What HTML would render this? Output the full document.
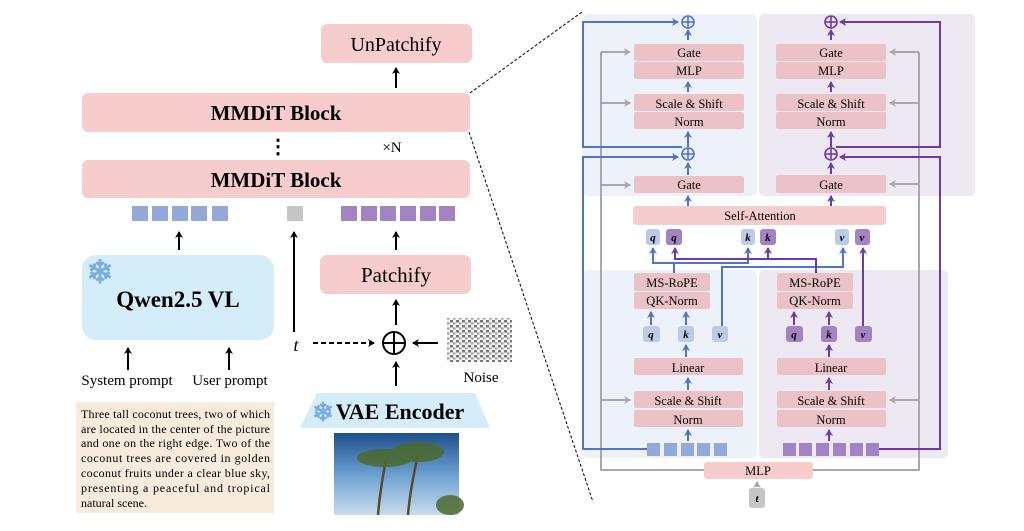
<!DOCTYPE html>
<html><head><meta charset="utf-8"><style>
html,body{margin:0;padding:0;background:#fff;}
svg{display:block;}
text{font-family:"Liberation Serif",serif;}
</style></head><body>
<svg width="1024" height="531" viewBox="0 0 1024 531" xmlns="http://www.w3.org/2000/svg">
<defs>
<marker id="ak" markerWidth="8" markerHeight="8" refX="6" refY="4" orient="auto" markerUnits="userSpaceOnUse"><path d="M0,0 L7,4 L0,8 L2,4 z" fill="#000"/></marker>
<marker id="ab" markerWidth="8" markerHeight="8" refX="6" refY="4" orient="auto" markerUnits="userSpaceOnUse"><path d="M0,0 L7,4 L0,8 L2,4 z" fill="#4f74c9"/></marker>
<marker id="ap" markerWidth="8" markerHeight="8" refX="6" refY="4" orient="auto" markerUnits="userSpaceOnUse"><path d="M0,0 L7,4 L0,8 L2,4 z" fill="#6e3aa8"/></marker>
<marker id="ag" markerWidth="8" markerHeight="8" refX="6" refY="4" orient="auto" markerUnits="userSpaceOnUse"><path d="M0,0 L7,4 L0,8 L2,4 z" fill="#a8a8a8"/></marker>
<pattern id="noise" width="6" height="5" patternUnits="userSpaceOnUse"><rect width="6" height="5" fill="#f4f4f4"/><rect x="0" y="0" width="3" height="2.5" fill="#777"/><rect x="3" y="2.5" width="2.5" height="2" fill="#999"/></pattern>
<linearGradient id="sky" x1="0" y1="0" x2="0" y2="1"><stop offset="0" stop-color="#1d4f8a"/><stop offset="0.5" stop-color="#6b9fd0"/><stop offset="1" stop-color="#c8dcef"/></linearGradient>
</defs>

<!-- LEFT -->
<rect x="321" y="24" width="151" height="39" rx="6" fill="#f7cccd"/>
<text x="396" y="51" font-size="20" text-anchor="middle">UnPatchify</text>
<line x1="396" y1="88" x2="396" y2="68" stroke="#000" stroke-width="2" marker-end="url(#ak)"/>
<rect x="82" y="93" width="388" height="39" rx="6" fill="#f7cccd"/>
<text x="276" y="120" font-size="21" font-weight="bold" text-anchor="middle">MMDiT Block</text>
<text x="278" y="153" font-size="20" font-weight="bold" text-anchor="middle">⋮</text>
<text x="392" y="152" font-size="15" text-anchor="middle">×N</text>
<rect x="82" y="160" width="388" height="38" rx="6" fill="#f7cccd"/>
<text x="276" y="187" font-size="21" font-weight="bold" text-anchor="middle">MMDiT Block</text>

<g fill="#93a9d8">
<rect x="132" y="206" width="16" height="15"/><rect x="152" y="206" width="16" height="15"/><rect x="172" y="206" width="16" height="15"/><rect x="191" y="206" width="16" height="15"/><rect x="212" y="206" width="16" height="15"/>
</g>
<rect x="287" y="206" width="16" height="15" fill="#c6c6c6"/>
<g fill="#a383c2">
<rect x="341" y="206" width="16" height="15"/><rect x="361" y="206" width="16" height="15"/><rect x="380" y="206" width="16" height="15"/><rect x="400" y="206" width="16" height="15"/><rect x="420" y="206" width="16" height="15"/><rect x="439" y="206" width="16" height="15"/>
</g>
<line x1="179" y1="250" x2="179" y2="232" stroke="#000" stroke-width="2" marker-end="url(#ak)"/>
<line x1="294" y1="332" x2="294" y2="232" stroke="#000" stroke-width="2" marker-end="url(#ak)"/>
<line x1="396" y1="250" x2="396" y2="232" stroke="#000" stroke-width="2" marker-end="url(#ak)"/>

<rect x="82" y="255" width="192" height="85" rx="14" fill="#d5ecf9"/>
<text x="100" y="283" font-size="32" font-weight="bold" fill="#7aaee0" text-anchor="middle">❄</text>
<text x="178" y="307" font-size="23" font-weight="bold" text-anchor="middle">Qwen2.5 VL</text>
<rect x="320" y="255" width="151" height="39" rx="7" fill="#f7cccd"/>
<text x="396" y="282" font-size="21" text-anchor="middle">Patchify</text>

<line x1="396" y1="325" x2="396" y2="300" stroke="#000" stroke-width="2" marker-end="url(#ak)"/>
<text x="296" y="351" font-size="18" font-style="italic" text-anchor="middle">t</text>
<line x1="313" y1="343" x2="374" y2="343" stroke="#000" stroke-width="2" stroke-dasharray="5,3" marker-end="url(#ak)"/>
<circle cx="394" cy="343" r="11" fill="none" stroke="#000" stroke-width="2"/>
<line x1="383" y1="343" x2="405" y2="343" stroke="#000" stroke-width="2"/>
<line x1="394" y1="332" x2="394" y2="354" stroke="#000" stroke-width="2"/>
<line x1="438" y1="343" x2="413" y2="343" stroke="#000" stroke-width="2" marker-end="url(#ak)"/>
<rect x="447" y="318" width="65" height="44" fill="url(#noise)"/>
<text x="481" y="382" font-size="15" text-anchor="middle">Noise</text>
<line x1="396" y1="386" x2="396" y2="362" stroke="#000" stroke-width="2" marker-end="url(#ak)"/>

<line x1="128" y1="370" x2="128" y2="348" stroke="#000" stroke-width="2" marker-end="url(#ak)"/>
<line x1="229" y1="370" x2="229" y2="348" stroke="#000" stroke-width="2" marker-end="url(#ak)"/>
<text x="127" y="385" font-size="15" text-anchor="middle">System prompt</text>
<text x="230" y="385" font-size="15" text-anchor="middle">User prompt</text>

<rect x="76" y="402" width="198" height="111" fill="#f9ebdc"/>
<g font-size="12">
<text x="81" y="418" textLength="189" lengthAdjust="spacing">Three tall coconut trees, two of which</text>
<text x="81" y="433" textLength="189" lengthAdjust="spacing">are located in the center of the picture</text>
<text x="81" y="447" textLength="189" lengthAdjust="spacing">and one on the right edge. Two of the</text>
<text x="81" y="462" textLength="189" lengthAdjust="spacing">coconut trees are covered in golden</text>
<text x="81" y="477" textLength="189" lengthAdjust="spacing">coconut fruits under a clear blue sky,</text>
<text x="81" y="492" textLength="189" lengthAdjust="spacing">presenting a peaceful and tropical</text>
<text x="81" y="507">natural scene.</text>
</g>

<polygon points="317,393 475,393 490,428 300,428" fill="#d5ecf9"/>
<text x="323" y="421" font-size="26" font-weight="bold" fill="#7aaee0" text-anchor="middle">❄</text>
<text x="400" y="419" font-size="22" font-weight="bold" text-anchor="middle">VAE Encoder</text>
<rect x="334" y="433" width="125" height="82" fill="url(#sky)"/>
<g stroke="#5a4a2a" stroke-width="2.5" fill="none"><path d="M378,515 Q380,490 386,460"/><path d="M408,515 Q410,490 418,455"/></g>
<g fill="#4c6a2c" opacity="0.85"><ellipse cx="385" cy="458" rx="28" ry="9"/><ellipse cx="418" cy="452" rx="26" ry="10"/><ellipse cx="450" cy="505" rx="14" ry="10"/></g>

<line x1="470" y1="93" x2="582" y2="12" stroke="#000" stroke-width="1" stroke-dasharray="3,2"/>
<line x1="469" y1="132" x2="593" y2="502" stroke="#000" stroke-width="1" stroke-dasharray="3,2"/>

<!-- RIGHT panels -->
<rect x="583" y="14" width="174" height="182" rx="5" fill="#edf2fa"/>
<rect x="759" y="14" width="216" height="182" rx="5" fill="#eee8f3"/>
<rect x="583" y="270" width="174" height="188" rx="5" fill="#edf2fa"/>
<rect x="759" y="270" width="189" height="188" rx="5" fill="#eee8f3"/>

<!-- gray lines -->
<g stroke="#a8a8a8" stroke-width="2" fill="none">
<polyline points="704,470 601,470 601,52"/>
<polyline points="813,470 919,470 919,52"/>
</g>
<g stroke="#a8a8a8" stroke-width="2">
<line x1="601" y1="52" x2="630" y2="52" marker-end="url(#ag)"/>
<line x1="601" y1="103" x2="630" y2="103" marker-end="url(#ag)"/>
<line x1="601" y1="185" x2="630" y2="185" marker-end="url(#ag)"/>
<line x1="601" y1="400" x2="630" y2="400" marker-end="url(#ag)"/>
<line x1="919" y1="52" x2="890" y2="52" marker-end="url(#ag)"/>
<line x1="919" y1="103" x2="890" y2="103" marker-end="url(#ag)"/>
<line x1="919" y1="184" x2="890" y2="184" marker-end="url(#ag)"/>
<line x1="919" y1="400" x2="890" y2="400" marker-end="url(#ag)"/>
<line x1="757" y1="487" x2="757" y2="482" marker-end="url(#ag)"/>
</g>

<!-- boxes -->
<g fill="#ebc3c6">
<rect x="634" y="44" width="110" height="17" rx="2"/><rect x="634" y="62" width="110" height="17" rx="2"/>
<rect x="634" y="94" width="110" height="17" rx="2"/><rect x="634" y="112" width="110" height="17" rx="2"/>
<rect x="634" y="176" width="110" height="17" rx="2"/>
<rect x="776" y="44" width="110" height="17" rx="2"/><rect x="776" y="62" width="110" height="17" rx="2"/>
<rect x="776" y="94" width="110" height="17" rx="2"/><rect x="776" y="112" width="110" height="17" rx="2"/>
<rect x="776" y="175" width="110" height="18" rx="2"/>
<rect x="634" y="273" width="76" height="18" rx="2"/><rect x="634" y="292" width="76" height="17" rx="2"/>
<rect x="634" y="358" width="109" height="17" rx="2"/>
<rect x="634" y="391" width="109" height="17" rx="2"/><rect x="634" y="410" width="109" height="17" rx="2"/>
<rect x="777" y="273" width="76" height="18" rx="2"/><rect x="777" y="292" width="76" height="17" rx="2"/>
<rect x="777" y="358" width="109" height="17" rx="2"/>
<rect x="777" y="391" width="109" height="17" rx="2"/><rect x="777" y="410" width="109" height="17" rx="2"/>
</g>
<rect x="633" y="206" width="253" height="19" rx="3" fill="#f7cccd"/>
<rect x="704" y="462" width="109" height="17" rx="3" fill="#f7cccd"/>
<g font-size="12.5" text-anchor="middle">
<text x="689" y="57">Gate</text><text x="689" y="75">MLP</text><text x="689" y="108">Scale &amp; Shift</text><text x="689" y="126">Norm</text><text x="689" y="189">Gate</text>
<text x="831" y="57">Gate</text><text x="831" y="75">MLP</text><text x="831" y="108">Scale &amp; Shift</text><text x="831" y="126">Norm</text><text x="831" y="189">Gate</text>
<text x="760" y="220">Self-Attention</text>
<text x="672" y="287">MS-RoPE</text><text x="672" y="305">QK-Norm</text><text x="688" y="372">Linear</text><text x="688" y="405">Scale &amp; Shift</text><text x="688" y="424">Norm</text>
<text x="815" y="287">MS-RoPE</text><text x="815" y="305">QK-Norm</text><text x="831" y="372">Linear</text><text x="831" y="405">Scale &amp; Shift</text><text x="831" y="424">Norm</text>
<text x="758" y="475">MLP</text>
</g>

<!-- qkv tiles -->
<g font-size="11" font-style="italic" font-weight="bold" text-anchor="middle">
<rect x="646" y="229" width="14" height="16" rx="3" fill="#bccbe6"/><text x="653" y="241">q</text>
<rect x="666" y="229" width="16" height="16" rx="3" fill="#a383c2"/><text x="674" y="241">q</text>
<rect x="741" y="229" width="14" height="16" rx="3" fill="#bccbe6"/><text x="748" y="241">k</text>
<rect x="760" y="229" width="16" height="16" rx="3" fill="#a383c2"/><text x="768" y="241">k</text>
<rect x="835" y="229" width="14" height="16" rx="3" fill="#bccbe6"/><text x="842" y="241">v</text>
<rect x="855" y="229" width="15" height="16" rx="3" fill="#a383c2"/><text x="862" y="241">v</text>
<rect x="643" y="326" width="17" height="16" rx="3" fill="#bccbe6"/><text x="651" y="338">q</text>
<rect x="678" y="326" width="16" height="16" rx="3" fill="#bccbe6"/><text x="686" y="338">k</text>
<rect x="712" y="326" width="16" height="16" rx="3" fill="#bccbe6"/><text x="720" y="338">v</text>
<rect x="786" y="326" width="17" height="16" rx="3" fill="#a383c2"/><text x="794" y="338">q</text>
<rect x="821" y="326" width="16" height="16" rx="3" fill="#a383c2"/><text x="829" y="338">k</text>
<rect x="855" y="326" width="17" height="16" rx="3" fill="#a383c2"/><text x="863" y="338">v</text>
<rect x="749" y="488" width="16" height="20" rx="3" fill="#c6c6c6"/><text x="757" y="502">t</text>
</g>

<!-- tokens -->
<g fill="#93a9d8"><rect x="647" y="443" width="13" height="13"/><rect x="664" y="443" width="13" height="13"/><rect x="681" y="443" width="13" height="13"/><rect x="697" y="443" width="13" height="13"/><rect x="714" y="443" width="13" height="13"/></g>
<g fill="#a383c2"><rect x="783" y="443" width="13" height="13"/><rect x="799" y="443" width="13" height="13"/><rect x="816" y="443" width="13" height="13"/><rect x="833" y="443" width="13" height="13"/><rect x="850" y="443" width="13" height="13"/><rect x="866" y="443" width="13" height="13"/></g>

<!-- blue lines -->
<g stroke="#4f74c9" stroke-width="2" fill="none">
<polyline points="647,449 583,449 583,157 678,157" marker-end="url(#ab)"/>
<polyline points="682,147 583,147 583,22 678,22" marker-end="url(#ab)"/>
<line x1="688" y1="40" x2="688" y2="30" marker-end="url(#ab)"/>
<line x1="688" y1="92" x2="688" y2="82" marker-end="url(#ab)"/>
<line x1="688" y1="147" x2="688" y2="132" marker-end="url(#ab)"/>
<line x1="688" y1="175" x2="688" y2="163" marker-end="url(#ab)"/>
<line x1="688" y1="206" x2="688" y2="196" marker-end="url(#ab)"/>
<line x1="688" y1="441" x2="688" y2="430" marker-end="url(#ab)"/>
<line x1="688" y1="390" x2="688" y2="378" marker-end="url(#ab)"/>
<line x1="686" y1="357" x2="686" y2="345" marker-end="url(#ab)"/>
<line x1="651" y1="325" x2="651" y2="312" marker-end="url(#ab)"/>
<line x1="686" y1="325" x2="686" y2="312" marker-end="url(#ab)"/>
<polyline points="674,273 674,263"/>
<polyline points="653,258 653,263 748,263 748,258"/>
<line x1="653" y1="260" x2="653" y2="248" marker-end="url(#ab)"/>
<line x1="748" y1="260" x2="748" y2="248" marker-end="url(#ab)"/>
<polyline points="722,326 722,267 843,267 843,255"/>
<line x1="843" y1="256" x2="843" y2="248" marker-end="url(#ab)"/>
</g>
<g stroke="#4f74c9" stroke-width="1.6" fill="none">
<circle cx="688" cy="22" r="6"/><line x1="682" y1="22" x2="694" y2="22"/><line x1="688" y1="16" x2="688" y2="28"/>
<circle cx="688" cy="154" r="6"/><line x1="682" y1="154" x2="694" y2="154"/><line x1="688" y1="148" x2="688" y2="160"/>
</g>

<!-- purple lines -->
<g stroke="#6e3aa8" stroke-width="2" fill="none">
<polyline points="879,449 940,449 940,157 840,157" marker-end="url(#ap)"/>
<polyline points="836,147 940,147 940,22 840,22" marker-end="url(#ap)"/>
<line x1="831" y1="40" x2="831" y2="30" marker-end="url(#ap)"/>
<line x1="831" y1="92" x2="831" y2="82" marker-end="url(#ap)"/>
<line x1="831" y1="147" x2="831" y2="132" marker-end="url(#ap)"/>
<line x1="831" y1="174" x2="831" y2="163" marker-end="url(#ap)"/>
<line x1="831" y1="206" x2="831" y2="196" marker-end="url(#ap)"/>
<line x1="829" y1="441" x2="829" y2="430" marker-end="url(#ap)"/>
<line x1="829" y1="390" x2="829" y2="378" marker-end="url(#ap)"/>
<line x1="829" y1="357" x2="829" y2="345" marker-end="url(#ap)"/>
<line x1="794" y1="325" x2="794" y2="312" marker-end="url(#ap)"/>
<line x1="829" y1="325" x2="829" y2="312" marker-end="url(#ap)"/>
<polyline points="816,273 816,259 675,259 675,256"/>
<line x1="675" y1="258" x2="675" y2="248" marker-end="url(#ap)"/>
<line x1="768" y1="259" x2="768" y2="248" marker-end="url(#ap)"/>
<line x1="863" y1="326" x2="863" y2="248" marker-end="url(#ap)"/>
</g>
<g stroke="#6e3aa8" stroke-width="1.6" fill="none">
<circle cx="831" cy="22" r="6"/><line x1="825" y1="22" x2="837" y2="22"/><line x1="831" y1="16" x2="831" y2="28"/>
<circle cx="831" cy="154" r="6"/><line x1="825" y1="154" x2="837" y2="154"/><line x1="831" y1="148" x2="831" y2="160"/>
</g>
</svg>
</body></html>
